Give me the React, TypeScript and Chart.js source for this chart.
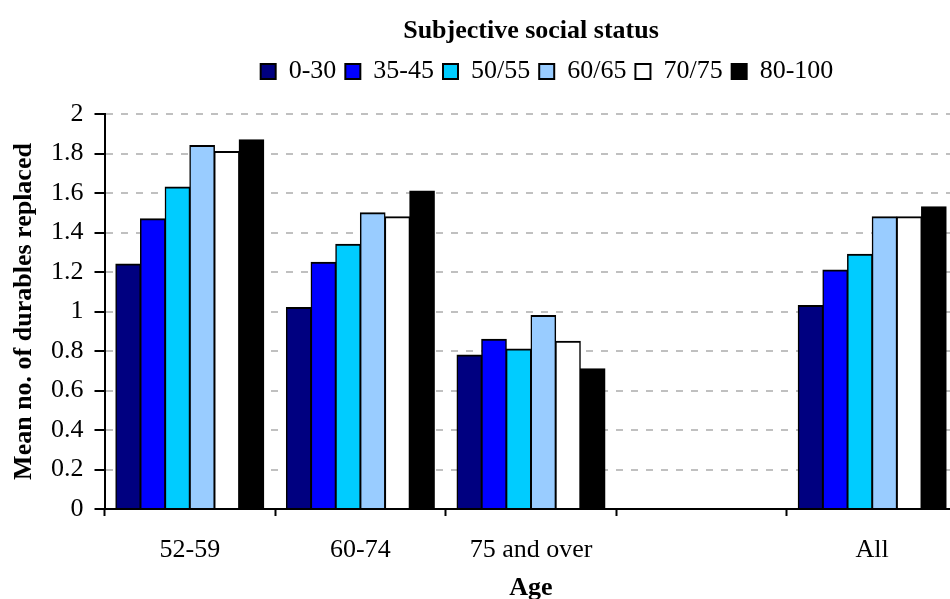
import React, { useEffect, useRef } from 'react';
import { Chart, registerables } from 'chart.js';

Chart.register(...registerables);

// Age groups on the x axis (the fourth slot is an empty spacer before "All")
const ageGroups = ['52-59', '60-74', '75 and over', '', 'All'];

// Subjective social status bands (one bar series each)
const statusBands = ['0-30', '35-45', '50/55', '60/65', '70/75', '80-100'];

// Mean number of durables replaced, per age group
const status0to30 = [1.24, 1.02, 0.78, null, 1.03];
const status35to45 = [1.47, 1.25, 0.86, null, 1.21];
const status50or55 = [1.63, 1.34, 0.81, null, 1.29];
const status60or65 = [1.84, 1.5, 0.98, null, 1.48];
const status70or75 = [1.81, 1.48, 0.85, null, 1.48];
const status80to100 = [1.87, 1.61, 0.71, null, 1.53];

const bandColors = ['#000080', '#0000FF', '#00CCFF', '#99CCFF', '#FFFFFF', '#000000'];

// Value axis range and tick spacing
const yMin = 0;
const yMax = 2;
const yStep = 0.2;

const SERIF = "'Liberation Serif', 'Times New Roman', Times, serif";

export default function App() {
  const canvasRef = useRef<HTMLCanvasElement>(null);

  useEffect(() => {
    const series = [status0to30, status35to45, status50or55, status60or65, status70or75, status80to100];
    const chart = new Chart(canvasRef.current as HTMLCanvasElement, {
      type: 'bar',
      data: {
        labels: ageGroups,
        datasets: statusBands.map((name, i) => ({
          label: name,
          data: series[i],
          backgroundColor: bandColors[i],
          borderColor: '#000000',
          borderWidth: { top: 2, left: 1.5, right: 1.5, bottom: 0 },
          inflateAmount: 0.5,
          barPercentage: 1,
          categoryPercentage: 0.8675,
        })),
      },
      options: {
        responsive: false,
        animation: false,
        layout: { padding: 0 },
        plugins: {
          title: {
            display: true,
            text: 'Subjective social status',
            fullSize: false,
            color: '#000000',
            font: { family: SERIF, size: 26, weight: 'bold', lineHeight: 1.2 },
            padding: { top: 15.6, bottom: 2.7 },
          },
          legend: {
            position: 'top',
            fullSize: true,
            labels: {
              color: '#000000',
              font: { family: SERIF, size: 26 },
              boxWidth: 15,
              boxHeight: 15,
              padding: 9,
              generateLabels: (c: any) =>
                Chart.defaults.plugins.legend.labels
                  .generateLabels(c)
                  .map((item: any) => ({ ...item, lineWidth: 2, strokeStyle: '#000000' })),
            },
          },
          tooltip: { enabled: false },
        },
        scales: {
          x: {
            offset: true,
            grid: {
              display: true,
              drawOnChartArea: false,
              offset: true,
              tickLength: 7,
              tickColor: '#000000',
              tickWidth: 2,
            },
            border: { display: true, color: '#000000', width: 2, z: 1 },
            ticks: {
              color: '#000000',
              font: { family: SERIF, size: 26 },
              padding: 18.6,
              maxRotation: 0,
              autoSkip: false,
            },
            title: {
              display: true,
              text: 'Age',
              color: '#000000',
              font: { family: SERIF, size: 26, weight: 'bold', lineHeight: 0.8 },
              padding: { top: 0, bottom: 0 },
            },
            afterFit: (s: any) => {
              s.height = 90;
            },
          },
          // empty band between the legend and the plot
          xGap: {
            type: 'category',
            position: 'top',
            display: true,
            grid: { display: false },
            border: { display: false },
            ticks: { display: false },
            afterFit: (s: any) => {
              s.height = 19.5;
            },
          },
          y: {
            min: yMin,
            max: yMax,
            ticks: {
              stepSize: yStep,
              color: '#000000',
              font: { family: SERIF, size: 26 },
              padding: 11,
              callback: (v: any) => String(+Number(v).toFixed(1)),
            },
            grid: {
              color: '#C0C0C0',
              lineWidth: 2,
              tickColor: '#000000',
              tickWidth: 2,
              tickLength: 10,
            },
            border: { display: true, color: '#000000', width: 2, dash: [7, 8], z: 1 },
            title: {
              display: true,
              text: 'Mean no. of durables replaced',
              color: '#000000',
              font: { family: SERIF, size: 26, weight: 'bold', lineHeight: 1 },
              padding: { top: 11, bottom: 0 },
            },
            afterFit: (s: any) => {
              s.width = 104.5;
            },
          },
          // blank margin on the right that keeps the legend row centred
          yRight: {
            position: 'right',
            display: true,
            grid: { display: false },
            border: { display: false },
            ticks: { display: false },
            afterFit: (s: any) => {
              s.width = 136.5;
            },
          },
        },
      } as any,
    });
    return () => chart.destroy();
  }, []);

  return (
    <div
      style={{
        position: 'fixed',
        left: 0,
        top: 0,
        width: 950,
        height: 599,
        overflow: 'hidden',
        background: '#FFFFFF',
      }}
    >
      <canvas ref={canvasRef} width={1094} height={599} style={{ display: 'block' }} />
    </div>
  );
}
